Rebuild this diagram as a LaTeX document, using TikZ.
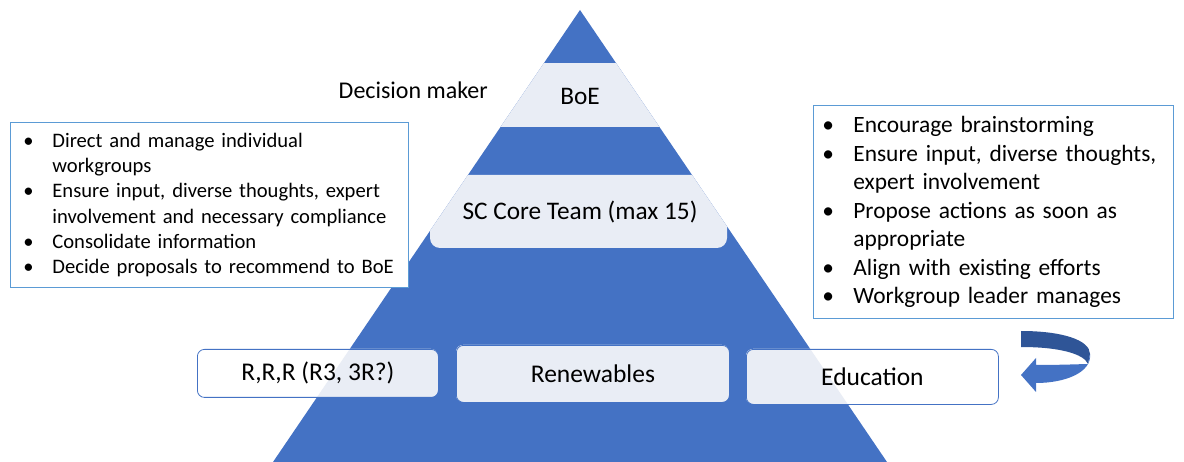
\documentclass[tikz,border=0pt]{standalone}
\usepackage{fontspec}
\setmainfont{Carlito}
\usetikzlibrary{positioning}
\definecolor{pyrblue}{HTML}{4472C4}
\definecolor{bandlight}{HTML}{E9EDF5}
\definecolor{frameblue}{HTML}{5B9BD5}
\definecolor{arrowdark}{HTML}{2F5597}
% bullet lines for the note boxes
\newcommand{\bline}[3]{\makebox[#1][l]{\hspace{#2}\textbullet}#3}
\newcommand{\contline}[2]{\hspace*{#1}#2}
\tikzset{
  notebox/.style={draw=frameblue,line width=0.8pt,fill=white,anchor=north west,
    inner xsep=0pt,inner ysep=0pt,align=left},
  areabox/.style={draw=pyrblue,line width=0.8pt,rounded corners=7pt,anchor=north west,
    inner sep=0pt,font=\fontsize{25.5}{30}\selectfont},
  layer/.style={font=\fontsize{25.3}{30}\selectfont,inner sep=0pt},
}
\begin{document}
\begin{tikzpicture}[x=1pt,y=-1pt]
    \useasboundingbox (0,0) rectangle (1184,462);
    \coordinate (apex) at (580,10);
    \coordinate (baseR) at (887,462);
    \coordinate (baseL) at (273,462);
    % pyramid
    \fill[pyrblue] (apex) -- (baseR) -- (baseL) -- cycle;
    \begin{scope}
        \clip (apex) -- (baseR) -- (baseL) -- cycle;
        \fill[bandlight] (0,63) rectangle (1184,127);
        \fill[bandlight,rounded corners=10pt] (430,175) rectangle (727,248);
    \end{scope}
    \node[layer] (boe) at (580,96) {BoE};
    \node[layer] (core) at (580,212) {SC Core Team (max 15)};
    \node[layer,anchor=east,font=\fontsize{24}{28}\selectfont] (decision) at (488,90) {Decision maker};
    % notes left and right
    \node[notebox,minimum width=398pt,minimum height=165pt,text width=398pt,
          font=\fontsize{20.6}{25.3}\selectfont] (steer) at (10,122) {%
        \bline{42pt}{13pt}{Direct and manage individual}\\
        \contline{42pt}{workgroups}\\
        \bline{42pt}{13pt}{Ensure input, diverse thoughts, expert}\\
        \contline{42pt}{involvement and necessary compliance}\\
        \bline{42pt}{13pt}{Consolidate information}\\
        \bline{42pt}{13pt}{Decide proposals to recommend to BoE}};
    \node[notebox,minimum width=360pt,minimum height=213pt,text width=360pt,
          font=\fontsize{23.4}{28.5}\selectfont] (groups) at (813,105) {%
        \bline{40pt}{9pt}{Encourage brainstorming}\\
        \bline{40pt}{9pt}{Ensure input, diverse thoughts,}\\
        \contline{40pt}{expert involvement}\\
        \bline{40pt}{9pt}{Propose actions as soon as}\\
        \contline{40pt}{appropriate}\\
        \bline{40pt}{9pt}{Align with existing efforts}\\
        \bline{40pt}{9pt}{Workgroup leader manages}};
    % workgroups: white outside the pyramid, light inside it
    \foreach \xa/\ya/\xb/\yb in {197/349/438/397, 456/345/729/402, 746/349/998/404} {
        \fill[white,rounded corners=7pt] (\xa,\ya) rectangle (\xb,\yb);
        \begin{scope}
            \clip (apex) -- (baseR) -- (baseL) -- cycle;
            \fill[bandlight,rounded corners=7pt] (\xa,\ya) rectangle (\xb,\yb);
        \end{scope}
    }
    \node[areabox,minimum width=241pt,minimum height=48pt] (rrr) at (197,349) {R,R,R (R3, 3R?)};
    \node[areabox,minimum width=273pt,minimum height=57pt] (renew) at (456,345) {Renewables};
    \node[areabox,minimum width=252pt,minimum height=55pt] (edu) at (746,349) {Education};
    % turning arrow
    \fill[arrowdark] (1021,331) .. controls (1062,331) and (1090,340) .. (1090,354)
        -- (1088,364) .. controls (1084,354) and (1060,347) .. (1021,347) -- cycle;
    \fill[pyrblue] (1090,354) .. controls (1092,372) and (1066,383) .. (1036,383)
        -- (1036,392) -- (1021,375) -- (1036,358) -- (1036,365)
        .. controls (1062,365) and (1084,364) .. (1088,364) -- cycle;
\end{tikzpicture}
\end{document}
